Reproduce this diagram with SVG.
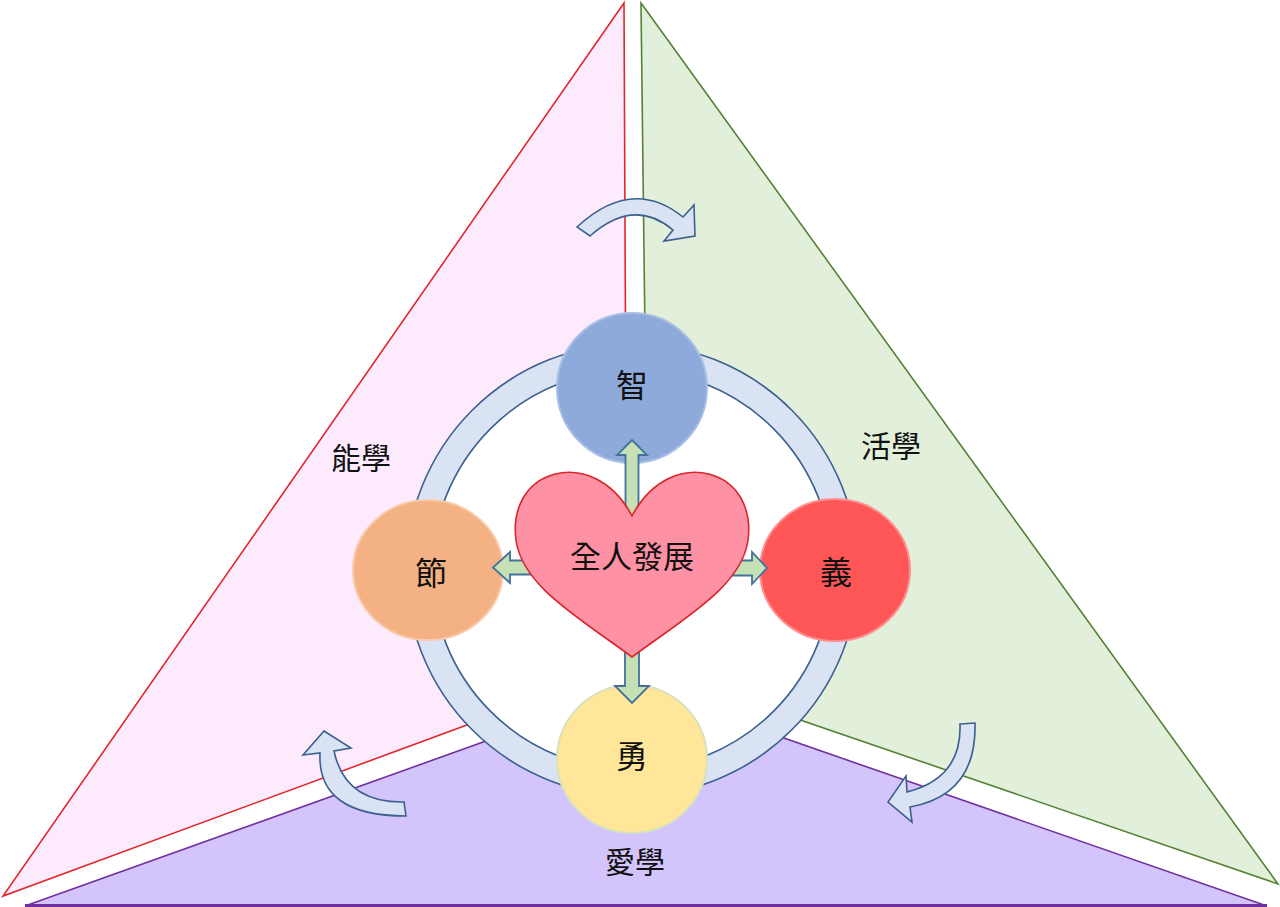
<svg xmlns="http://www.w3.org/2000/svg" width="1280" height="907" viewBox="0 0 1280 907">
<style>
.lbl{font-family:"Liberation Serif","Noto Sans CJK TC",serif;font-size:30px;fill:#111;text-anchor:middle;dominant-baseline:central}
.big{font-size:32px}
.cur{fill:#dae3f3;stroke:#3b5f8f;stroke-width:1.6;stroke-linejoin:miter}
.arr{fill:#c5e0b4;stroke:#41719c;stroke-width:1.8;stroke-linejoin:miter}
</style>
<rect width="1280" height="907" fill="#ffffff"/>
<g id="tri-left">
<polygon points="624,3 3,896 627,666" fill="#fdebfd" stroke="#e3262b" stroke-width="1.6"/>
</g>
<g id="tri-right">
<polygon points="641,3 1278,884 649,668" fill="#e2efda" stroke="#548235" stroke-width="1.6"/>
</g>
<g id="tri-bottom">
<polygon points="637,687 1267,906 25,906" fill="#d4c4fc" stroke="#7030a0" stroke-width="1.6"/>
<line x1="25" y1="905.5" x2="1267" y2="905.5" stroke="#7030a0" stroke-width="3"/>
</g>
<g id="labels">
<text class="lbl" x="361" y="458">能學</text>
<text class="lbl" x="891" y="446">活學</text>
<text class="lbl" x="635" y="862">愛學</text>
</g>
<g id="cycle-arrows">
<path class="cur" d="M577,227 Q632,176 683,217 L694,205 L695,236 L664,241 L673,230 Q634,197 590,236 Z"/>
<path class="cur" d="M324,731 L351,748 L334,751 Q345,803 404,802 L406,816 Q317,816 320,753 L303,755 Z"/>
<path class="cur" d="M960,724 L975,723 Q977,795 910,807 L912,822 L888,802 L906,776 L907,792 Q962,778 960,724 Z"/>
</g>
<g id="ring">
<circle cx="632" cy="570" r="226" fill="#dae3f3" stroke="#3b5f8f" stroke-width="1.6"/>
<circle cx="632" cy="570" r="200" fill="#ffffff" stroke="#3b5f8f" stroke-width="1.6"/>
</g>
<g id="node-zhi">
<ellipse cx="632" cy="388" rx="75" ry="75" fill="#8eaadb" stroke="#a9c0e6" stroke-width="2"/>
<text class="lbl big" x="632" y="386">智</text>
</g>
<g id="node-jie">
<ellipse cx="428" cy="570" rx="75" ry="70" fill="#f4b183" stroke="#f8cbad" stroke-width="2"/>
<text class="lbl big" x="431" y="574">節</text>
</g>
<g id="node-yi">
<ellipse cx="835" cy="570" rx="75" ry="71" fill="#ff5757" stroke="#ff8f8f" stroke-width="2"/>
<text class="lbl big" x="836" y="573">義</text>
</g>
<g id="node-yong">
<ellipse cx="632" cy="759" rx="75" ry="74" fill="#ffe699" stroke="#d6e3bc" stroke-width="2"/>
<text class="lbl big" x="632" y="757">勇</text>
</g>
<g id="connectors">
<polygon class="arr" points="625.5,520 625.5,455 617,455 632,440 647,455 638.5,455 638.5,520"/>
<polygon class="arr" points="540,560.5 510,560.5 510,552 493,567.5 510,583 510,574.5 540,574.5"/>
<polygon class="arr" points="725,560.5 752,560.5 752,552 767,568 752,584 752,575.5 725,575.5"/>
<polygon class="arr" points="625,640 625,686 615,686 632,703 649,686 639,686 639,640"/>
</g>
<g id="node-heart">
<path d="M632,516 C612,478 580,468 555,474 C525,482 512,510 516,540 C522,585 575,615 632,657 C689,615 742,585 748,540 C752,510 739,482 709,474 C684,468 652,478 632,516 Z" fill="#ff91a4" stroke="#d9262b" stroke-width="1.6"/>
<text class="lbl" x="632" y="557" style="font-size:31px">全人發展</text>
</g>
</svg>
